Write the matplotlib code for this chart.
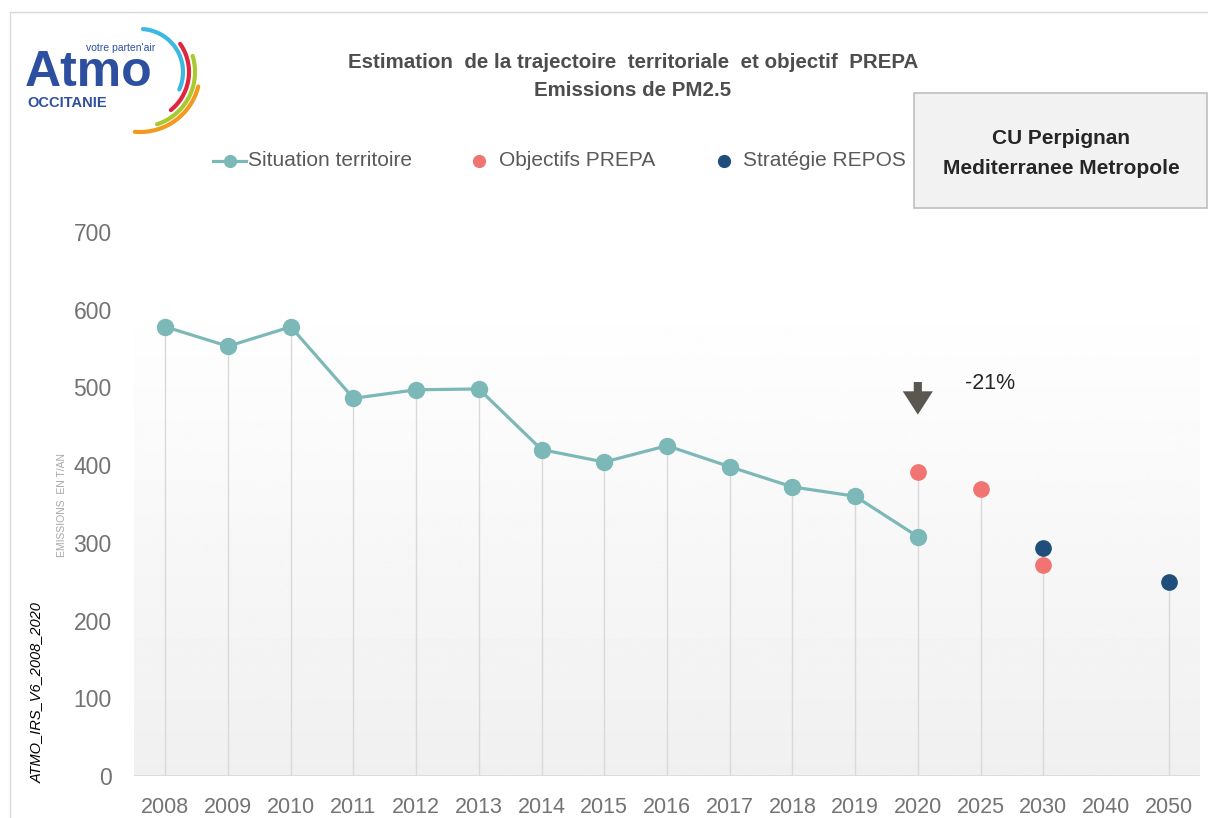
import numpy as np
import matplotlib
matplotlib.use("Agg")
import matplotlib.pyplot as plt
from matplotlib.patches import Rectangle
from matplotlib.lines import Line2D

# Data
years = ["2008", "2009", "2010", "2011", "2012", "2013", "2014", "2015", "2016",
         "2017", "2018", "2019", "2020", "2025", "2030", "2040", "2050"]
situation = [578, 553, 578, 486, 497, 498, 420, 404, 425, 398, 372, 360, 308]
prepa_years = ["2020", "2025", "2030"]
prepa = [391, 369, 272]
repos_years = ["2030", "2050"]
repos = [293, 250]
yticks = [0, 100, 200, 300, 400, 500, 600, 700]

TEAL = "#7db8b9"
RED = "#f07471"
NAVY = "#1f4e7d"
GREY_TXT = "#737373"
FONT = ["Liberation Sans", "DejaVu Sans"]

W, H = 1208, 818
fig = plt.figure(figsize=(W / 100, H / 100), dpi=100)
fig.patch.set_facecolor("white")


def fx(px):
    return px / W


def fy(py):
    return 1 - py / H


# thin outer frame
fig.patches.append(Rectangle((fx(10), -0.01), 1.2, fy(12) + 0.01,
                             transform=fig.transFigure, fill=False,
                             edgecolor="#d9d9d9", linewidth=1))

ax = fig.add_axes([fx(134), fy(776), fx(1200 - 134), (776 - 232) / H])
x = np.arange(len(years))
pos = {y: i for i, y in enumerate(years)}

ax.set_xlim(-0.5, len(years) - 0.5)
ax.set_ylim(0, 700)

# gradient plot area
grad = np.linspace(0.94, 1.0, 256).reshape(-1, 1)
ax.imshow(grad, cmap="gray", vmin=0, vmax=1, aspect="auto", origin="lower",
          extent=[-0.5, len(years) - 0.5, 0, 620], zorder=0)

# drop lines down to zero from the highest point of each year
drop = {}
for yrs, vals in [(years[:len(situation)], situation), (prepa_years, prepa),
                  (repos_years, repos)]:
    for yr, v in zip(yrs, vals):
        drop[yr] = max(drop.get(yr, 0), v)
ax.vlines([pos[k] for k in drop], 0, list(drop.values()), color="#d9d9d9",
          linewidth=1, zorder=1)
ax.axhline(0, color="#d9d9d9", linewidth=1.2, zorder=1)

ax.plot(x[:len(situation)], situation, color=TEAL, linewidth=2.3, marker="o",
        markersize=11.5, zorder=3)
ax.plot([pos[y] for y in prepa_years], prepa, "o", color=RED, markersize=11,
        zorder=4)
ax.plot([pos[y] for y in repos_years], repos, "o", color=NAVY, markersize=11,
        zorder=4)

for s in ax.spines.values():
    s.set_visible(False)
ax.set_xticks(x)
ax.set_xticklabels(years, fontsize=15.5, color=GREY_TXT, family=FONT)
ax.set_yticks(yticks)
ax.set_yticklabels([str(t) for t in yticks], fontsize=16.5, color=GREY_TXT,
                   family=FONT)
ax.tick_params(axis="both", length=0)
ax.tick_params(axis="x", pad=15)
ax.tick_params(axis="y", pad=16)

# arrow and reduction label
ax.arrow(pos["2020"], 507, 0, -12, width=0.13, head_width=0.48,
         head_length=30, length_includes_head=False, color="#5a5650",
         linewidth=0, zorder=5)
ax.text(13.15, 505, "-21%", fontsize=15.5, color="#262626", family=FONT,
        ha="center", va="center")

# axis captions
fig.text(fx(62), fy(505), "EMISSIONS  EN T/AN", rotation=90, fontsize=7.5,
         color="#a6a6a6", ha="center", va="center", family=FONT)
fig.text(fx(37), fy(693), "ATMO_IRS_V6_2008_2020", rotation=90,
         fontsize=10.5, style="italic", color="black", ha="center",
         va="center", family=FONT)

# title
fig.text(fx(633), fy(62), "Estimation  de la trajectoire  territoriale  et objectif  PREPA",
         fontsize=14.8, weight="bold", color="#4d4d4d", ha="center",
         va="center", family=FONT)
fig.text(fx(633), fy(90), "Emissions de PM2.5", fontsize=14.8,
         weight="bold", color="#4d4d4d", ha="center", va="center",
         family=FONT)

# box label
fig.patches.append(Rectangle((fx(914), fy(208)), fx(1207 - 914),
                             (208 - 93) / H, transform=fig.transFigure,
                             facecolor="#f2f2f2", edgecolor="#bfbfbf",
                             linewidth=1.2))
fig.text(fx(1061), fy(138), "CU Perpignan", fontsize=15, weight="bold",
         color="#262626", ha="center", va="center", family=FONT)
fig.text(fx(1061), fy(168), "Mediterranee Metropole", fontsize=15,
         weight="bold", color="#262626", ha="center", va="center",
         family=FONT)

# legend, placed item by item
leg_y = fy(161)
fig.add_artist(Line2D([fx(213), fx(246)], [leg_y, leg_y], color=TEAL,
                      linewidth=2.3, transform=fig.transFigure))
fig.add_artist(Line2D([fx(229.5)], [leg_y], color=TEAL, marker="o",
                      markersize=8.5, transform=fig.transFigure))
fig.add_artist(Line2D([fx(479)], [leg_y], color=RED, marker="o",
                      markersize=8.5, transform=fig.transFigure))
fig.add_artist(Line2D([fx(724)], [leg_y], color=NAVY, marker="o",
                      markersize=8.5, transform=fig.transFigure))
for px, label in [(248, "Situation territoire"), (499, "Objectifs PREPA"),
                  (743, "Stratégie REPOS")]:
    fig.text(fx(px), leg_y, label, fontsize=15, color="#595959",
             family=FONT, ha="left", va="center")

# logo
lax = fig.add_axes([0, fy(150), fx(220), 150 / H])
lax.set_xlim(0, 220)
lax.set_ylim(150, 0)
lax.axis("off")
lax.text(25, 86, "Atmo", fontsize=36, weight="bold", color="#2d4fa0",
         family=FONT, va="baseline", ha="left")
lax.text(27, 107, "OCCITANIE", fontsize=10.5, weight="bold", color="#2d4fa0",
         family=FONT, va="baseline")
lax.text(86, 51, "votre parten'air", fontsize=7.5, color="#2d4fa0",
         family=FONT, va="baseline")
cx, cy = 140, 72
for col, r, a0, a1 in [("#3cb8e2", 43, 86, -24), ("#e0253f", 49, 35, -51),
                       ("#a9c931", 55, 17, -72), ("#f29a1e", 60, -14, -95)]:
    t = np.radians(np.linspace(a0, a1, 60))
    lax.plot(cx + r * np.cos(t), cy - r * np.sin(t), color=col, linewidth=3,
             solid_capstyle="round")

fig.savefig("out.png", dpi=100)
